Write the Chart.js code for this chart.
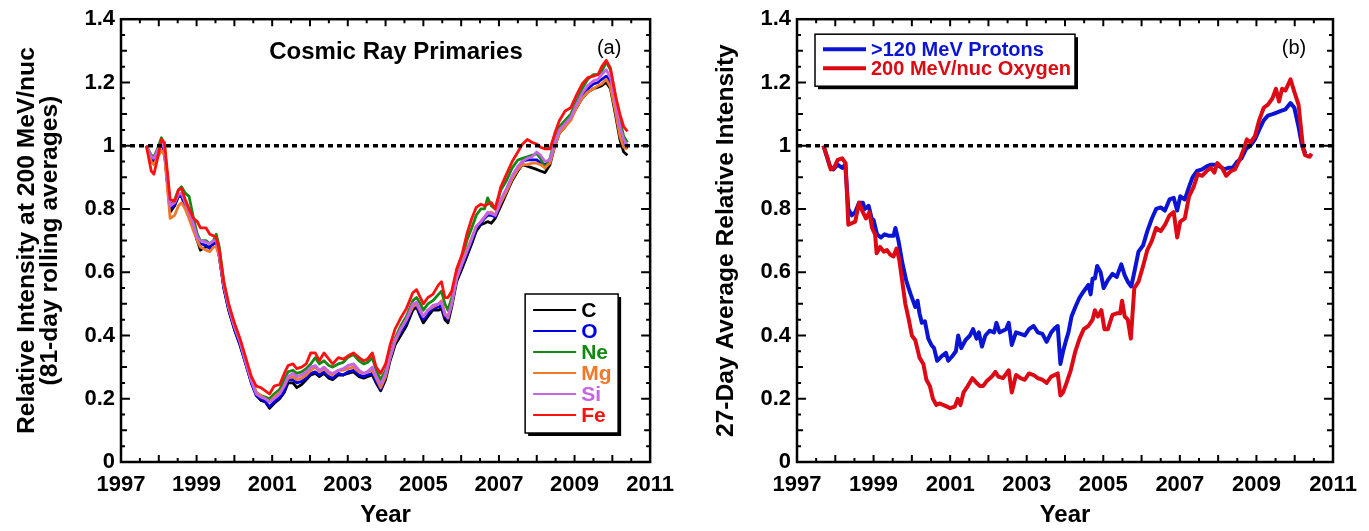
<!DOCTYPE html>
<html>
<head>
<meta charset="utf-8">
<script src="https://cdn.jsdelivr.net/npm/chart.js@4.4.1/dist/chart.umd.min.js"></script>
<style>
  body { margin: 0; background: #fff; }
  #wrap { position: relative; width: 1369px; height: 531px; }
  #wrap canvas { position: absolute; top: 0; }
</style>
</head>
<body>
<div id="wrap">
  <canvas id="left-chart" width="684" height="531" style="left:0"></canvas>
  <canvas id="right-chart" width="685" height="531" style="left:684px"></canvas>
</div>
<script>
// ---- panel (a): 81-day rolling averages ----
const yearsA = [1997.67, 1997.80, 1997.87, 1997.95, 1998.07, 1998.15, 1998.30, 1998.42, 1998.52, 1998.60,
  1998.70, 1998.80, 1998.92, 1999.02, 1999.10, 1999.25, 1999.35, 1999.45, 1999.52, 1999.60,
  1999.72, 1999.85, 2000.00, 2000.15, 2000.30, 2000.45, 2000.58, 2000.70, 2000.82, 2000.93,
  2001.05, 2001.20, 2001.32, 2001.42, 2001.55, 2001.65, 2001.78, 2001.90, 2002.02, 2002.14,
  2002.25, 2002.37, 2002.50, 2002.60, 2002.75, 2002.88, 2003.00, 2003.15, 2003.30, 2003.42,
  2003.52, 2003.65, 2003.75, 2003.87, 2004.00, 2004.12, 2004.25, 2004.40, 2004.55, 2004.72,
  2004.82, 2004.92, 2005.00, 2005.12, 2005.25, 2005.40, 2005.48, 2005.57, 2005.65, 2005.75,
  2005.88, 2006.02, 2006.15, 2006.28, 2006.40, 2006.52, 2006.62, 2006.70, 2006.80, 2006.90,
  2007.05, 2007.20, 2007.35, 2007.50, 2007.62, 2007.75, 2007.88, 2008.00, 2008.10, 2008.22,
  2008.35, 2008.48, 2008.60, 2008.75, 2008.90, 2009.05, 2009.20, 2009.35, 2009.50, 2009.62,
  2009.72, 2009.84, 2009.95, 2010.08, 2010.20, 2010.30, 2010.40];

const carbon = [1.00, .96, .95, .975, 1.01, .98, .79, .81, .84, .84,
  .81, .78, .74, .70, .67, .68, .68, .69, .70, .65,
  .55, .48, .42, .37, .31, .25, .21, .195, .19, .17,
  .185, .20, .22, .25, .25, .235, .245, .26, .275, .28,
  .27, .28, .265, .26, .275, .275, .28, .285, .27, .265,
  .27, .275, .25, .225, .26, .32, .37, .40, .43, .48,
  .49, .46, .44, .46, .48, .48, .485, .45, .44, .49,
  .57, .61, .65, .69, .73, .75, .755, .76, .755, .77,
  .81, .85, .89, .92, .94, .935, .93, .925, .92, .915,
  .94, 1.00, 1.04, 1.06, 1.09, 1.12, 1.15, 1.17, 1.18, 1.185,
  1.19, 1.20, 1.18, 1.10, 1.02, .98, .97];

const oxygen = [1.00, .96, .955, .975, 1.01, .98, .80, .815, .84, .84,
  .81, .78, .74, .70, .69, .685, .675, .69, .70, .65,
  .55, .48, .42, .37, .31, .25, .21, .20, .19, .175,
  .19, .205, .225, .26, .26, .25, .255, .265, .28, .285,
  .275, .285, .27, .265, .28, .275, .285, .29, .275, .27,
  .275, .28, .255, .23, .27, .33, .38, .41, .44, .49,
  .495, .465, .45, .47, .485, .49, .495, .46, .45, .50,
  .58, .62, .66, .70, .74, .755, .77, .78, .78, .775,
  .82, .86, .90, .93, .95, .955, .955, .955, .945, .94,
  .95, 1.01, 1.05, 1.07, 1.09, 1.13, 1.16, 1.18, 1.195, 1.20,
  1.21, 1.22, 1.20, 1.12, 1.04, 1.00, .99];

const neon = [1.00, .97, .965, .985, 1.025, 1.00, .81, .83, .86, .87,
  .85, .84, .77, .72, .70, .70, .69, .70, .72, .68,
  .57, .49, .43, .38, .32, .26, .22, .21, .205, .20,
  .215, .23, .26, .285, .29, .28, .285, .295, .31, .33,
  .31, .32, .305, .30, .31, .315, .33, .34, .32, .31,
  .315, .33, .29, .26, .29, .34, .39, .43, .46, .51,
  .52, .50, .48, .50, .51, .53, .54, .50, .48, .52,
  .60, .64, .70, .74, .78, .80, .80, .835, .81, .80,
  .86, .89, .93, .955, .96, .965, .97, .975, .96, .93,
  .96, 1.02, 1.06, 1.08, 1.10, 1.14, 1.18, 1.21, 1.225, 1.225,
  1.235, 1.265, 1.24, 1.16, 1.08, 1.03, 1.01];

const magnesium = [1.00, .95, .94, .96, .985, .97, .77, .78, .81, .82,
  .80, .77, .73, .70, .68, .67, .665, .68, .68, .65,
  .56, .49, .43, .38, .32, .26, .22, .21, .20, .19,
  .205, .22, .24, .265, .27, .26, .265, .275, .29, .30,
  .285, .295, .28, .275, .29, .29, .295, .30, .285, .28,
  .285, .29, .265, .235, .27, .33, .38, .42, .45, .49,
  .50, .475, .46, .48, .49, .50, .51, .47, .455, .50,
  .58, .63, .67, .71, .745, .76, .775, .785, .79, .78,
  .82, .855, .895, .925, .94, .94, .945, .945, .94, .93,
  .945, 1.00, 1.04, 1.06, 1.08, 1.12, 1.15, 1.17, 1.18, 1.19,
  1.195, 1.21, 1.185, 1.11, 1.03, .995, .99];

const silicon = [1.00, .965, .96, .98, 1.015, .99, .81, .82, .845, .85,
  .82, .79, .75, .71, .70, .695, .69, .70, .70, .66,
  .56, .49, .43, .38, .315, .255, .215, .205, .20, .19,
  .20, .215, .24, .27, .28, .27, .275, .285, .30, .305,
  .29, .30, .285, .28, .29, .295, .305, .31, .29, .28,
  .285, .30, .27, .245, .28, .33, .385, .42, .45, .50,
  .505, .48, .46, .48, .495, .50, .505, .465, .46, .50,
  .58, .625, .665, .705, .745, .76, .775, .79, .785, .78,
  .83, .865, .905, .935, .95, .96, .965, .98, .97, .95,
  .955, 1.01, 1.05, 1.07, 1.09, 1.13, 1.165, 1.19, 1.205, 1.21,
  1.225, 1.24, 1.215, 1.14, 1.06, 1.02, 1.00];

const iron = [1.00, .92, .91, .95, 1.02, 1.01, .83, .825, .86, .865,
  .83, .80, .77, .76, .74, .74, .72, .715, .71, .67,
  .57, .50, .44, .39, .33, .27, .24, .235, .225, .215,
  .24, .245, .28, .305, .31, .295, .30, .31, .345, .345,
  .32, .345, .325, .31, .33, .325, .335, .345, .33, .32,
  .325, .345, .30, .28, .31, .37, .42, .455, .485, .535,
  .545, .52, .50, .52, .53, .56, .57, .52, .52, .54,
  .61, .655, .72, .77, .805, .815, .81, .815, .82, .80,
  .87, .91, .95, .98, 1.005, 1.02, 1.01, 1.005, .995, .99,
  .99, 1.04, 1.08, 1.11, 1.12, 1.16, 1.195, 1.215, 1.22, 1.225,
  1.25, 1.27, 1.245, 1.16, 1.10, 1.06, 1.045];

// ---- panel (b): 27-day averages ----
const yearsProtons = [1997.69, 1997.86, 1997.95, 1998.06, 1998.18, 1998.26, 1998.34, 1998.43, 1998.52, 1998.62,
  1998.72, 1998.77, 1998.87, 1998.95, 1999.00, 1999.09, 1999.19, 1999.29, 1999.40, 1999.52,
  1999.57, 1999.65, 1999.75, 1999.86, 1999.97, 2000.09, 2000.15, 2000.20, 2000.26, 2000.34,
  2000.43, 2000.51, 2000.58, 2000.66, 2000.78, 2000.89, 2000.95, 2001.06, 2001.15, 2001.21,
  2001.29, 2001.40, 2001.52, 2001.60, 2001.69, 2001.75, 2001.83, 2001.92, 2002.03, 2002.15,
  2002.21, 2002.29, 2002.38, 2002.46, 2002.53, 2002.61, 2002.72, 2002.84, 2002.95, 2003.06,
  2003.18, 2003.29, 2003.41, 2003.52, 2003.64, 2003.75, 2003.81, 2003.88, 2003.95, 2004.04,
  2004.09, 2004.17, 2004.27, 2004.38, 2004.49, 2004.61, 2004.67, 2004.72, 2004.78, 2004.84,
  2004.93, 2005.01, 2005.12, 2005.24, 2005.35, 2005.47, 2005.56, 2005.64, 2005.73, 2005.81,
  2005.92, 2006.04, 2006.15, 2006.27, 2006.38, 2006.50, 2006.61, 2006.73, 2006.84, 2006.93,
  2007.01, 2007.13, 2007.24, 2007.33, 2007.45, 2007.58, 2007.70, 2007.81, 2007.93, 2008.04,
  2008.16, 2008.27, 2008.38, 2008.50, 2008.61, 2008.73, 2008.84, 2008.96, 2009.07, 2009.19,
  2009.30, 2009.42, 2009.53, 2009.64, 2009.76, 2009.89, 2009.99, 2010.10, 2010.19, 2010.28];

const protons = [1.00, .935, .925, .94, .93, .94, .80, .78, .79, .82,
  .82, .80, .81, .77, .765, .72, .71, .72, .715, .715,
  .74, .70, .63, .57, .53, .49, .51, .47, .44, .445,
  .39, .37, .36, .32, .335, .345, .32, .335, .35, .40,
  .36, .385, .40, .42, .39, .41, .365, .40, .415, .41,
  .44, .41, .415, .42, .44, .37, .41, .405, .40, .42,
  .43, .41, .405, .38, .41, .425, .43, .31, .35, .39,
  .41, .46, .49, .52, .54, .56, .53, .58, .58, .62,
  .60, .55, .575, .595, .585, .625, .59, .57, .555, .60,
  .665, .685, .73, .77, .80, .805, .795, .83, .835, .795,
  .84, .83, .87, .90, .92, .925, .935, .94, .94, .935,
  .925, .93, .93, .95, .96, .99, 1.00, 1.02, 1.05, 1.08,
  1.095, 1.10, 1.105, 1.11, 1.115, 1.135, 1.12, 1.06, 1.00, .975];

const yearsOxygen = [1997.69, 1997.80, 1997.88, 1997.97, 1998.06, 1998.18, 1998.27, 1998.34, 1998.43, 1998.52,
  1998.62, 1998.72, 1998.80, 1998.89, 1998.96, 1999.04, 1999.08, 1999.17, 1999.27, 1999.35,
  1999.44, 1999.52, 1999.60, 1999.67, 1999.75, 1999.83, 1999.92, 2000.00, 2000.09, 2000.20,
  2000.30, 2000.38, 2000.47, 2000.55, 2000.64, 2000.72, 2000.83, 2000.92, 2001.00, 2001.12,
  2001.20, 2001.27, 2001.35, 2001.46, 2001.58, 2001.69, 2001.78, 2001.86, 2001.95, 2002.09,
  2002.18, 2002.26, 2002.38, 2002.53, 2002.61, 2002.72, 2002.84, 2002.95, 2003.06, 2003.18,
  2003.29, 2003.41, 2003.52, 2003.64, 2003.81, 2003.88, 2003.95, 2004.04, 2004.15, 2004.27,
  2004.38, 2004.49, 2004.61, 2004.72, 2004.78, 2004.86, 2004.95, 2005.03, 2005.12, 2005.24,
  2005.35, 2005.44, 2005.49, 2005.56, 2005.64, 2005.72, 2005.81, 2005.92, 2006.04, 2006.15,
  2006.27, 2006.38, 2006.50, 2006.61, 2006.73, 2006.84, 2006.93, 2007.01, 2007.13, 2007.24,
  2007.36, 2007.47, 2007.58, 2007.70, 2007.81, 2007.90, 2007.98, 2008.10, 2008.21, 2008.33,
  2008.44, 2008.56, 2008.67, 2008.75, 2008.84, 2008.96, 2009.07, 2009.19, 2009.30, 2009.42,
  2009.51, 2009.59, 2009.67, 2009.76, 2009.89, 2009.99, 2010.10, 2010.22, 2010.27, 2010.39, 2010.44];

const oxygen27 = [1.00, .96, .925, .93, .955, .96, .945, .75, .755, .76,
  .82, .79, .77, .79, .74, .72, .66, .68, .665, .67,
  .655, .65, .675, .64, .57, .50, .45, .40, .385, .33,
  .31, .26, .24, .20, .18, .185, .18, .175, .17, .175,
  .20, .18, .22, .24, .265, .25, .24, .24, .255, .27,
  .285, .27, .265, .29, .22, .275, .265, .26, .28, .275,
  .265, .26, .25, .27, .28, .21, .22, .25, .29, .35,
  .39, .42, .43, .45, .48, .46, .48, .42, .42, .465,
  .47, .47, .51, .46, .45, .39, .55, .57, .62, .67,
  .70, .74, .73, .75, .78, .79, .71, .76, .77, .84,
  .87, .91, .905, .92, .93, .915, .945, .93, .905, .92,
  .925, .955, .99, 1.02, 1.01, 1.03, 1.08, 1.12, 1.13, 1.15,
  1.18, 1.14, 1.18, 1.175, 1.21, 1.17, 1.13, .99, .97, .965, .975];

// ---- axes ----
const xTickYears = [1997, 1999, 2001, 2003, 2005, 2007, 2009, 2011];
const xTickLabels = ['1997', '1999', '2001', '2003', '2005', '2007', '2009', '2011'];
const yTickValues = [0, 0.2, 0.4, 0.6, 0.8, 1, 1.2, 1.4];
const yTickLabels = ['0', '0.2', '0.4', '0.6', '0.8', '1', '1.2', '1.4'];
const referenceLevel = 1;

const FONT = '"Liberation Sans", Arial, Helvetica, sans-serif';
Chart.defaults.font.family = FONT;
Chart.defaults.color = '#000';

const pts = (xs, ys) => xs.map((x, i) => ({x: x, y: ys[i]}));

// frame, inward ticks, dotted line at 1, panel texts and boxed legend
const decor = {
  id: 'decor',
  afterDatasetsDraw(chart, args, o) {
    const {ctx, chartArea: a, scales: {x, y}} = chart;
    ctx.save();
    const yr = y.getPixelForValue(referenceLevel);
    ctx.strokeStyle = '#000';
    ctx.lineWidth = 3.5;
    ctx.setLineDash([5, 4]);
    ctx.beginPath();
    ctx.moveTo(a.left, yr);
    ctx.lineTo(a.right, yr);
    ctx.stroke();
    ctx.setLineDash([]);

    ctx.lineWidth = 2;
    ctx.beginPath();
    const nx = Math.round((x.max - x.min) * 2);
    for (let i = 1; i < nx; i++) {
      const px = x.getPixelForValue(x.min + i / 2);
      const len = i % 2 ? 4 : 7;
      ctx.moveTo(px, a.bottom); ctx.lineTo(px, a.bottom - len);
      ctx.moveTo(px, a.top); ctx.lineTo(px, a.top + len);
    }
    const ny = Math.round((y.max - y.min) * 20);
    for (let i = 1; i < ny; i++) {
      const py = y.getPixelForValue(y.min + i / 20);
      const len = i % 4 === 0 ? 9 : (i % 2 === 0 ? 6 : 4);
      ctx.moveTo(a.left, py); ctx.lineTo(a.left + len, py);
      ctx.moveTo(a.right, py); ctx.lineTo(a.right - len, py);
    }
    ctx.stroke();
    ctx.lineWidth = 2.5;
    ctx.strokeRect(a.left, a.top, a.width, a.height);

    ctx.fillStyle = '#000';
    ctx.textAlign = 'center';
    ctx.textBaseline = 'middle';
    if (o.title) {
      ctx.font = 'bold 24px ' + FONT;
      ctx.fillText(o.title, a.left + o.titleDx, a.top + 33);
    }
    ctx.font = '20px ' + FONT;
    ctx.fillText(o.tag, a.right - o.tagDx, a.top + 29);

    const L = o.legend;
    const bx = L.right != null ? a.right - L.right - L.w : a.left + L.left;
    const by = L.bottom != null ? a.bottom - L.bottom - L.h : a.top + L.top;
    ctx.fillStyle = '#000';
    ctx.fillRect(bx + 3, by + 3, L.w, L.h);
    ctx.fillStyle = '#fff';
    ctx.fillRect(bx, by, L.w, L.h);
    ctx.lineWidth = 1.5;
    ctx.strokeRect(bx, by, L.w, L.h);
    ctx.textAlign = 'left';
    ctx.font = 'bold ' + L.size + 'px ' + FONT;
    chart.data.datasets.forEach((ds, i) => {
      const ry = by + L.first + i * L.step;
      ctx.strokeStyle = ds.borderColor;
      ctx.lineWidth = L.lineWidth;
      ctx.beginPath();
      ctx.moveTo(bx + 8, ry);
      ctx.lineTo(bx + 51, ry);
      ctx.stroke();
      ctx.fillStyle = ds.borderColor;
      ctx.fillText(ds.label, bx + 56, ry + 1);
    });
    ctx.restore();
  }
};

function makeOptions(yWidth, rightPad, yTitle, titlePadTop, decorOpts) {
  return {
    responsive: false,
    animation: false,
    layout: {padding: {top: 15, right: rightPad, bottom: 0, left: 0}},
    plugins: {legend: {display: false}, tooltip: {enabled: false}, decor: decorOpts},
    elements: {point: {radius: 0}, line: {tension: 0, borderJoinStyle: 'round'}},
    scales: {
      x: {
        type: 'linear', min: 1997, max: 2011,
        afterBuildTicks: s => { s.ticks = xTickYears.map(v => ({value: v})); },
        afterFit: s => { s.height = 69; },
        grid: {display: false, drawTicks: false},
        border: {display: false},
        ticks: {autoSkip: false, maxRotation: 0, padding: 10,
          font: {size: 22, weight: 'bold'},
          callback: (v, i) => xTickLabels[i]},
        title: {display: true, text: 'Year', font: {size: 24, weight: 'bold'},
          padding: {top: 0, bottom: 1}}
      },
      y: {
        type: 'linear', min: 0, max: 1.4,
        afterBuildTicks: s => { s.ticks = yTickValues.map(v => ({value: v})); },
        afterFit: s => { s.width = yWidth; },
        grid: {display: false, drawTicks: false},
        border: {display: false},
        ticks: {padding: 6, font: {size: 22, weight: 'bold'},
          callback: (v, i) => yTickLabels[i]},
        title: {display: true, text: yTitle,
          font: {size: 24.6, weight: 'bold', lineHeight: 0.96},
          padding: {top: titlePadTop, bottom: 0}}
      }
    }
  };
}

const lineA = (label, color, ys, order) => ({
  label: label, data: pts(yearsA, ys), borderColor: color,
  borderWidth: 2.8, fill: false, order: order
});

new Chart(document.getElementById('left-chart'), {
  type: 'line',
  data: {
    datasets: [
      lineA('C', '#000000', carbon, 5),
      lineA('O', '#0000e6', oxygen, 4),
      lineA('Ne', '#128a12', neon, 3),
      lineA('Mg', '#f0782a', magnesium, 2),
      lineA('Si', '#c664e4', silicon, 1),
      lineA('Fe', '#ff1010', iron, 0)
    ]
  },
  options: makeOptions(121, 27,
    ['Relative Intensity at 200 MeV/nuc', '(81-day rolling averages)'], 15,
    {title: 'Cosmic Ray Primaries', titleDx: 275, tag: '(a)', tagDx: 41,
     legend: {right: 32, bottom: 29, w: 93, h: 139, first: 16, step: 21,
              size: 21, lineWidth: 2}}),
  plugins: [decor]
});

new Chart(document.getElementById('right-chart'), {
  type: 'line',
  data: {
    datasets: [
      {label: '>120 MeV Protons', data: pts(yearsProtons, protons),
       borderColor: '#0a14d2', borderWidth: 4, fill: false, order: 1},
      {label: '200 MeV/nuc Oxygen', data: pts(yearsOxygen, oxygen27),
       borderColor: '#dc0a14', borderWidth: 4, fill: false, order: 0}
    ]
  },
  options: makeOptions(113, 36, '27-Day Average Relative Intensity', 30,
    {title: null, tag: '(b)', tagDx: 39,
     legend: {left: 18, top: 15, w: 260, h: 52, first: 15, step: 19,
              size: 20, lineWidth: 4}}),
  plugins: [decor]
});
</script>
</body>
</html>
